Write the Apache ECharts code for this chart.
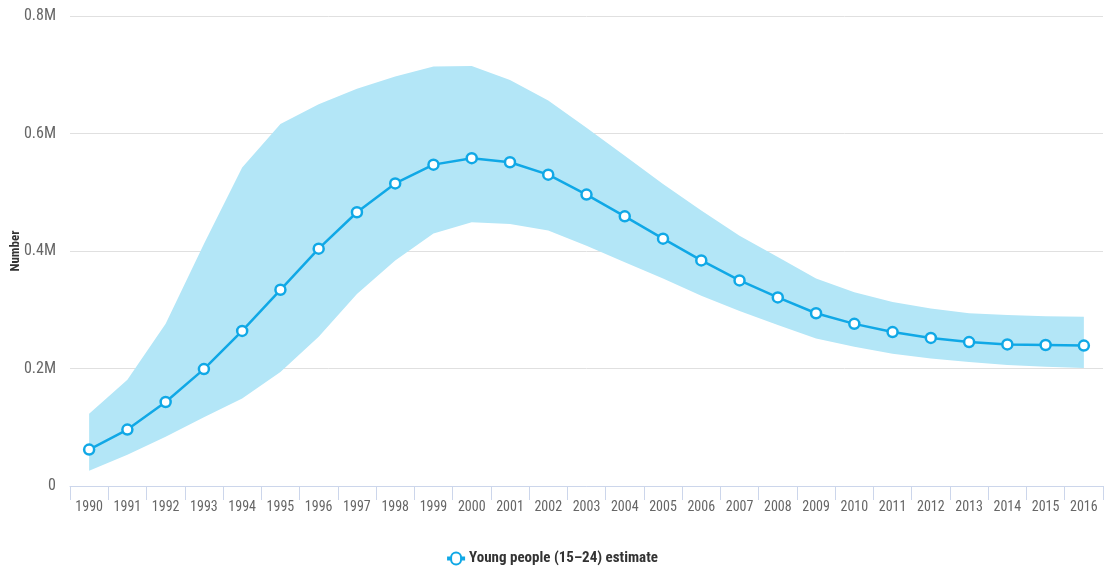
<!DOCTYPE html>
<html>
<head>
<meta charset="utf-8">
<script src="https://cdn.jsdelivr.net/npm/echarts@6/dist/echarts.min.js"></script>
<style>
  html, body { margin: 0; padding: 0; background: #fff; }
  #chart { width: 1105px; height: 571px; }
</style>
</head>
<body>
<div id="chart"></div>
<script>
const years = ['1990','1991','1992','1993','1994','1995','1996','1997','1998','1999','2000','2001','2002','2003','2004','2005','2006','2007','2008','2009','2010','2011','2012','2013','2014','2015','2016'];
const estimate = [0.062,0.096,0.143,0.199,0.264,0.334,0.404,0.466,0.515,0.547,0.558,0.551,0.530,0.496,0.459,0.421,0.384,0.350,0.321,0.294,0.276,0.262,0.252,0.245,0.241,0.240,0.239];
const upper = [0.123,0.181,0.276,0.412,0.542,0.616,0.650,0.676,0.697,0.714,0.715,0.691,0.656,0.610,0.562,0.514,0.469,0.426,0.390,0.353,0.330,0.313,0.302,0.294,0.291,0.289,0.288];
const lower = [0.026,0.053,0.084,0.117,0.149,0.194,0.254,0.327,0.384,0.430,0.449,0.446,0.435,0.409,0.381,0.353,0.324,0.298,0.274,0.251,0.237,0.225,0.217,0.211,0.206,0.203,0.201];
const yTicks = ['0','0.2M','0.4M','0.6M','0.8M'];
const M = 1e6;

const FONT = "'Liberation Sans Narrow', 'Roboto Condensed', 'Liberation Sans', sans-serif";
const chart = echarts.init(document.getElementById('chart'), null, { renderer: 'canvas' });
const bandWidth = upper.map((u, i) => (u - lower[i]) * M);

chart.setOption({
  animation: false,
  grid: { left: 70, right: 2, top: 16, bottom: 85, containLabel: false, outerBoundsMode: 'none' },
  legend: {
    bottom: 0,
    left: 'center',
    data: [{ name: 'Young people (15–24) estimate', icon: 'path://M0,4 L3,4 A5,5 0 1,1 13,4 L16,4 L16,6 L13,6 A5,5 0 1,1 3,6 L0,6 Z' }],
    itemWidth: 16, itemHeight: 12,
    textStyle: { fontFamily: FONT, fontSize: 15, fontWeight: 'bold', color: '#333' }
  },
  xAxis: {
    type: 'category',
    data: years,
    boundaryGap: true,
    axisLine: { lineStyle: { color: '#ccd6eb', width: 1 } },
    axisTick: { show: true, alignWithLabel: false, length: 14, lineStyle: { color: '#ccd6eb' } },
    axisLabel: { color: '#666', fontFamily: FONT, fontSize: 14, margin: 14 }
  },
  yAxis: {
    type: 'value',
    min: 0, max: 0.8 * M, interval: 0.2 * M,
    name: 'Number',
    nameLocation: 'middle',
    nameGap: 48,
    nameRotate: 90,
    nameMoveOverlap: false,
    nameTextStyle: { fontFamily: FONT, fontSize: 13, fontWeight: 'bold', color: '#333' },
    axisLine: { show: false },
    axisTick: { show: false },
    splitLine: { lineStyle: { color: '#e0e0e0', width: 1 } },
    axisLabel: {
      color: '#666', fontFamily: FONT, fontSize: 16, margin: 14,
      formatter: v => yTicks[Math.round(v / (0.2 * M))]
    }
  },
  series: [
    {
      name: 'lowerBound', type: 'line', stack: 'band', data: lower.map(v => v * M),
      symbol: 'none', lineStyle: { opacity: 0 }, silent: true
    },
    {
      name: 'band', type: 'line', stack: 'band', data: bandWidth,
      symbol: 'none', lineStyle: { opacity: 0 }, areaStyle: { color: '#b3e6f7', opacity: 1 }, silent: true
    },
    {
      name: 'Young people (15–24) estimate', type: 'line', data: estimate.map(v => v * M),
      color: '#10a8e6',
      lineStyle: { color: '#10a8e6', width: 2.5 },
      symbol: 'circle', symbolSize: 10,
      itemStyle: { color: '#ffffff', borderColor: '#10a8e6', borderWidth: 2.5 },
      z: 5
    }
  ]
});
</script>
</body>
</html>
